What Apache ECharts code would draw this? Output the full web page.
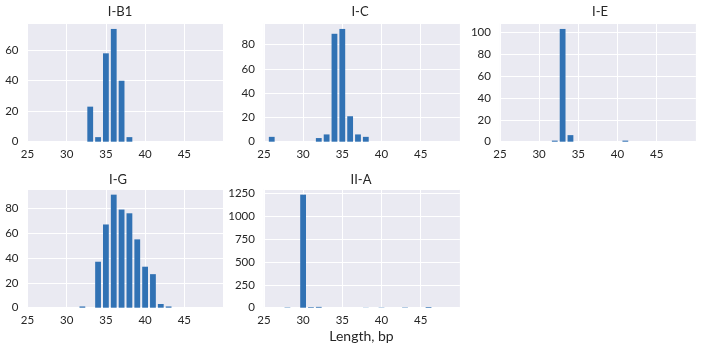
<!DOCTYPE html>
<html>
<head>
<meta charset="utf-8">
<script src="https://cdn.jsdelivr.net/npm/echarts@6/dist/echarts.min.js"></script>
<style>html,body{margin:0;padding:0;background:#fff}#c{width:701px;height:351px}</style>
</head>
<body>
<div id="c"></div>
<script>
// Panel titles
const panelNames = ['I-B1', 'I-C', 'I-E', 'I-G', 'II-A'];
// Lengths (bp) and counts per panel
const lengthsIB1 = [33, 34, 35, 36, 37, 38];
const countsIB1  = [23, 3, 58, 74, 40, 3];
const lengthsIC  = [26, 32, 33, 34, 35, 36, 37, 38];
const countsIC   = [4, 3, 6, 89, 93, 21, 6, 4];
const lengthsIE  = [32, 33, 34, 41];
const countsIE   = [1, 103, 6, 1];
const lengthsIG  = [32, 34, 35, 36, 37, 38, 39, 40, 41, 42, 43];
const countsIG   = [1, 37, 67, 91, 79, 76, 55, 33, 27, 3, 1];
const lengthsIIA = [28, 30, 31, 32, 38, 40, 43, 46];
const countsIIA  = [4, 1240, 7, 9, 2, 3, 4, 8];
// Axis ticks
const xTicks = [25, 30, 35, 40, 45];
const yIntervals = [20, 20, 20, 20, 250];
const xLabel = 'Length, bp';

const panels = [
  {L: lengthsIB1, C: countsIB1},
  {L: lengthsIC,  C: countsIC},
  {L: lengthsIE,  C: countsIE},
  {L: lengthsIG,  C: countsIG},
  {L: lengthsIIA, C: countsIIA}
];

const FONT = 'Lato, "DejaVu Sans", sans-serif';
const TXT = '#262626';
const grids = [
  {left: 27.5,  top: 23.3, width: 196, height: 118.4},
  {left: 263.9, top: 23.3, width: 196, height: 118.4},
  {left: 499.9, top: 23.3, width: 196, height: 118.4},
  {left: 27.5,  top: 189,  width: 196, height: 118.7},
  {left: 263.9, top: 189,  width: 196, height: 118.7}
];
const titlePos = [[120, 12], [360, 12], [600, 12], [118, 180], [361, 180]];

const option = {
  animation: false,
  backgroundColor: '#ffffff',
  grid: grids.map(g => Object.assign({show: true, backgroundColor: '#EAEAF2', borderWidth: 0, containLabel: false}, g)),
  xAxis: panels.map((p, i) => ({
    type: 'value', gridIndex: i, min: xTicks[0], max: 50, interval: 5,
    axisLine: {show: false}, axisTick: {show: false},
    axisLabel: {showMaxLabel: false, color: TXT, fontSize: 11.5, fontFamily: FONT, margin: 7, formatter: v => String(v)},
    splitLine: {show: true, lineStyle: {color: '#ffffff', width: 1}}
  })),
  yAxis: panels.map((p, i) => ({
    type: 'value', gridIndex: i, min: 0, max: Math.max(...p.C) * 1.05, interval: yIntervals[i],
    axisLine: {show: false}, axisTick: {show: false},
    axisLabel: {showMaxLabel: false, color: TXT, fontSize: 11.5, fontFamily: FONT, margin: 9, formatter: v => String(v)},
    splitLine: {show: true, lineStyle: {color: '#ffffff', width: 1}}
  })),
  series: panels.map((p, i) => ({
    type: 'bar', xAxisIndex: i, yAxisIndex: i,
    data: p.L.map((l, k) => [l, p.C[k]]),
    barWidth: 5.8,
    itemStyle: {color: '#3172b4'}
  })),
  graphic: panelNames.map((n, i) => ({
    type: 'text', x: titlePos[i][0], y: titlePos[i][1],
    style: {text: n, textAlign: 'center', textVerticalAlign: 'middle', fontSize: 13, fontFamily: FONT, fill: TXT}
  })).concat([{
    type: 'text', x: 361.5, y: 336,
    style: {text: xLabel, textAlign: 'center', textVerticalAlign: 'middle', fontSize: 14, fontFamily: FONT, fill: TXT}
  }])
};
const chart = echarts.init(document.getElementById('c'), null, {renderer: 'canvas'});
chart.setOption(option);
</script>
</body>
</html>
